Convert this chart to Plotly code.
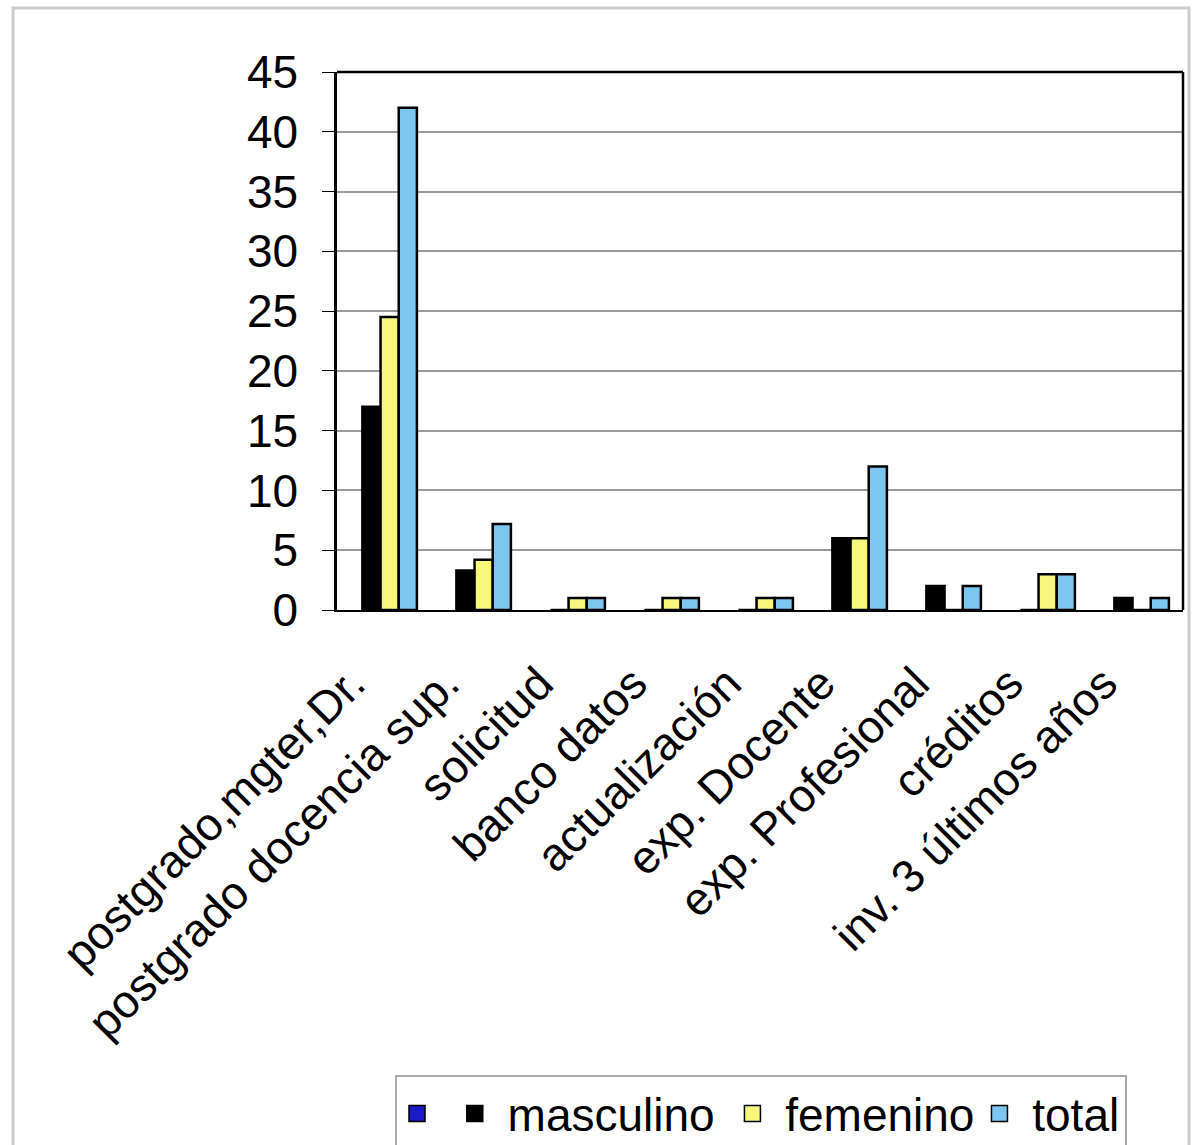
import plotly.graph_objects as go

categories = ["postgrado,mgter,Dr.", "postgrado docencia sup.", "solicitud", "banco datos",
              "actualización", "exp. Docente", "exp. Profesional", "créditos", "inv. 3 últimos años"]
masculino = [17, 3.3, 0, 0, 0, 6, 2, 0, 1]
femenino = [24.5, 4.2, 1, 1, 1, 6, 0, 3, 0]
total = [42, 7.2, 1, 1, 1, 12, 2, 3, 1]
series_names = ["", "masculino", "femenino", "total"]
series_colors = ["#1a1ac8", "#000000", "#f7f77e", "#7cc6f0"]

W, H = 1193, 1145
L, R, T, B = 337, 1183, 72, 610
pw, ph = R - L, B - T
NB = "\u00a0"
legend_labels = [NB, NB + "masculino" + NB, NB + "femenino", NB + "total"]

fig = go.Figure()
for name, vals, col in zip(series_names[1:], [masculino, femenino, total], series_colors[1:]):
    fig.add_bar(x=categories, y=vals, name=name, showlegend=False,
                marker=dict(color=col, line=dict(color="#000", width=2.5)))
# legend entries (including the unlabeled blue one)
for label, col in zip(legend_labels, series_colors):
    fig.add_scatter(x=categories, y=[None] * len(categories), name=label, mode="markers",
                    marker=dict(symbol="square", size=16, color=col, line=dict(color="#000", width=1.5)))

fig.update_layout(
    width=W, height=H,
    margin=dict(l=L, r=W - R, t=T, b=H - B, autoexpand=False),
    paper_bgcolor="white", plot_bgcolor="white",
    barmode="group", bargap=0.42, bargroupgap=0,
    font=dict(family="Liberation Sans, Arial, sans-serif", color="#000"),
    legend=dict(orientation="h", x=(395 - L) / pw, y=(B - 1075) / ph, xanchor="left", yanchor="top",
                font=dict(size=46), bordercolor="#aaaaaa", borderwidth=2, bgcolor="white",
                itemsizing="trace", traceorder="normal", tracegroupgap=0),
    showlegend=True,
)
fig.update_yaxes(range=[0, 45], dtick=5, tickfont=dict(size=46), showline=True, linecolor="#000", linewidth=2.5,
                 gridcolor="#9a9a9a", gridwidth=1.5, ticks="outside", ticklen=12,
                 tickcolor="#000", zeroline=False, ticklabelstandoff=15)
fig.update_xaxes(range=[-0.56, 8.44], tickangle=-45, tickfont=dict(size=46), showline=True, linecolor="#000",
                 linewidth=2, ticks="", showgrid=False, ticklabelstandoff=26, ticklabelshift=-38)

fig.add_shape(type="line", xref="paper", yref="paper", x0=0, x1=1, y0=1, y1=1, line=dict(color="#000", width=2.5))
fig.add_shape(type="line", xref="paper", yref="paper", x0=1, x1=1, y0=0, y1=1, line=dict(color="#000", width=2.5))
fig.add_shape(type="rect", xref="paper", yref="paper",
              x0=(13 - L) / pw, x1=(1189 - L) / pw, y0=(B - 1150) / ph, y1=(B - 8) / ph,
              line=dict(color="#cccccc", width=3), layer="below")

fig.write_html("out.html", config={"displayModeBar": False},
               post_script="document.body.style.margin='0';")
